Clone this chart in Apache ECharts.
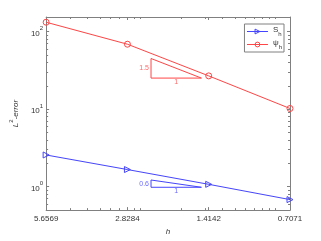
<!DOCTYPE html>
<html><head><meta charset="utf-8">
<script src="https://cdn.jsdelivr.net/npm/echarts@6/dist/echarts.min.js"></script>
<style>html,body{margin:0;padding:0;background:#fff}#c{width:321px;height:241px}</style>
</head><body><div id="c"></div>
<script>
// ---- data ----
const hValues = [5.6569, 2.8284, 1.4142, 0.7071];
const hTickLabels = ['5.6569', '2.8284', '1.4142', '0.7071'];
const sErrors = [2.56, 1.66, 1.07, 0.679];
const psiErrors = [132.7, 69.0, 26.9, 10.2];
const yTickExponents = [0, 1, 2];
const yMinorTickValues = [0.6, 0.7, 0.8, 0.9, 2, 3, 4, 5, 6, 7, 8, 9, 20, 30, 40, 50, 60, 70, 80, 90];
const xMinorTickH = [4.619, 4, 3.578, 3.266, 3.024, 2.667, 2.530, 1.789, 1.461, 1.265, 1.131, 1.033, 0.956, 0.894, 0.843, 0.8];
const xRange = [0.7071, 5.6569];
const yRange = [0.497, 155];
const redTriH = [2.313, 1.505];
const redTriE = [45.1, 25.2];
const redSlopeText = '1.5';
const blueTriH = [2.313, 1.505];
const blueTriE = [1.216, 0.98];
const blueSlopeText = '0.6';
const seriesNames = ['S_h', 'ψ_h'];

// ---- helpers ----
const lx = Math.log2, ly = Math.log10;
const RED = '#ff4545', BLUE = '#4545ff', AX = '#808080', TXT = '#333';
const FONT = 'Liberation Sans, Arial, sans-serif';
const CLEAR = 'rgba(255,255,255,0)';
const X0 = lx(xRange[0]), X1 = lx(xRange[1]);
const Y0 = ly(yRange[0]), Y1 = ly(yRange[1]);

function xAxisDef(pos, ticks, len, showLine, showLabel) {
  return {
    type: 'value', position: pos, min: X0, max: X1, inverse: true, gridIndex: 0,
    axisLine: {show: showLine, onZero: false, lineStyle: {color: AX, width: 1}},
    splitLine: {show: false},
    axisTick: {show: true, inside: true, length: len, customValues: ticks, lineStyle: {color: AX, width: 1}},
    axisLabel: showLabel ? {
      show: true, customValues: hValues.map(lx), margin: 5, fontSize: 8, color: TXT, fontFamily: FONT,
      formatter: v => { let k = hValues.findIndex(h => Math.abs(lx(h) - v) < 1e-3); return k >= 0 ? hTickLabels[k] : ''; }
    } : {show: false},
    name: showLabel ? 'h' : '', nameLocation: 'middle', nameGap: 17,
    nameTextStyle: {fontStyle: 'italic', fontSize: 8, color: TXT, fontFamily: FONT}
  };
}
function yAxisDef(pos, ticks, len, showLine, showLabel) {
  return {
    type: 'value', position: pos, min: Y0, max: Y1, gridIndex: 0,
    axisLine: {show: showLine, onZero: false, lineStyle: {color: AX, width: 1}},
    splitLine: {show: false},
    axisTick: {show: true, inside: true, length: len, customValues: ticks, lineStyle: {color: AX, width: 1}},
    axisLabel: showLabel ? {
      show: true, customValues: yTickExponents, margin: 3, color: TXT, fontFamily: FONT,
      formatter: v => '{b|10}{sup|' + Math.round(v) + '}',
      rich: {b: {fontSize: 8, lineHeight: 12, verticalAlign: 'bottom', color: TXT, fontFamily: FONT},
             sup: {fontSize: 6, lineHeight: 12, verticalAlign: 'top', color: TXT, fontFamily: FONT}}
    } : {show: false},
    name: showLabel ? '{i|L}{s|2}{i|-error}' : '', nameLocation: 'middle', nameGap: 21,
    nameTextStyle: {color: TXT, fontFamily: FONT,
      rich: {i: {fontStyle: 'italic', fontSize: 8, lineHeight: 12, verticalAlign: 'bottom', color: TXT, fontFamily: FONT},
             s: {fontSize: 6, lineHeight: 12, verticalAlign: 'top', color: TXT, fontFamily: FONT}}}
  };
}

const xMajor = hValues.map(lx), xMinor = xMinorTickH.map(lx);
const yMajor = yTickExponents.slice(), yMinor = yMinorTickValues.map(ly);

function triangle(H, E) {
  const a = lx(H[0]), b = lx(H[1]), t = ly(E[0]), u = ly(E[1]);
  return [[a, t], [a, u], [b, u], [a, t]];
}
function triLabels(H, E, txt) {
  const a = lx(H[0]), b = lx(H[1]), t = ly(E[0]), u = ly(E[1]);
  return [
    {value: [a, (t + u) / 2], label: {show: true, formatter: txt, position: 'left', distance: 2}},
    {value: [(a + b) / 2, u], label: {show: true, formatter: '1', position: 'bottom', distance: 0}}
  ];
}

const chart = echarts.init(document.getElementById('c'), null, {renderer: 'canvas'});
chart.setOption({
  animation: false,
  backgroundColor: '#fff',
  grid: {left: 42, right: 31, top: 17, bottom: 27},
  xAxis: [
    xAxisDef('bottom', xMajor, 3, true, true),
    xAxisDef('top', xMajor, 3, true, false),
    xAxisDef('bottom', xMinor, 2, false, false),
    xAxisDef('top', xMinor, 2, false, false)
  ],
  yAxis: [
    yAxisDef('left', yMajor, 3, true, true),
    yAxisDef('right', yMajor, 3, true, false),
    yAxisDef('left', yMinor, 2, false, false),
    yAxisDef('right', yMinor, 2, false, false)
  ],
  legend: {
    data: [
      {name: seriesNames[0], itemStyle: {color: CLEAR, borderColor: BLUE, borderWidth: 1}},
      {name: seriesNames[1], itemStyle: {color: CLEAR, borderColor: RED, borderWidth: 1}}
    ],
    orient: 'vertical', right: 37, top: 24,
    backgroundColor: '#fff', borderColor: AX, borderWidth: 1, borderRadius: 0,
    padding: [2, 2, 2, 2], itemGap: 2, itemWidth: 21, itemHeight: 6,
    lineStyle: {width: 1},
    formatter: n => { const p = n.split('_'); return '{b|' + p[0] + '}{s|' + p[1] + '}'; },
    textStyle: {color: TXT, fontFamily: FONT,
      rich: {b: {fontSize: 8, lineHeight: 11, verticalAlign: 'top', color: TXT, fontFamily: FONT},
             s: {fontSize: 6, lineHeight: 11, verticalAlign: 'bottom', color: TXT, fontFamily: FONT}}}
  },
  series: [
    {name: seriesNames[0], type: 'line', color: BLUE,
     data: hValues.map((h, i) => [lx(h), ly(sErrors[i])]),
     symbol: 'triangle', symbolRotate: -90, symbolSize: 6,
     itemStyle: {color: CLEAR, borderColor: BLUE, borderWidth: 1},
     lineStyle: {width: 1, color: BLUE}, emphasis: {disabled: true}, silent: true},
    {name: seriesNames[1], type: 'line', color: RED,
     data: hValues.map((h, i) => [lx(h), ly(psiErrors[i])]),
     symbol: 'circle', symbolSize: 6,
     itemStyle: {color: CLEAR, borderColor: RED, borderWidth: 1},
     lineStyle: {width: 1, color: RED}, emphasis: {disabled: true}, silent: true},
    {type: 'line', data: triangle(redTriH, redTriE), symbol: 'none', lineStyle: {width: 1, color: RED}, silent: true},
    {type: 'line', data: triangle(blueTriH, blueTriE), symbol: 'none', lineStyle: {width: 1, color: BLUE}, silent: true},
    {type: 'scatter', data: triLabels(redTriH, redTriE, redSlopeText), symbolSize: 0, silent: true,
     label: {color: RED, fontSize: 7, fontFamily: FONT}},
    {type: 'scatter', data: triLabels(blueTriH, blueTriE, blueSlopeText), symbolSize: 0, silent: true,
     label: {color: BLUE, fontSize: 7, fontFamily: FONT}}
  ]
});
</script></body></html>
